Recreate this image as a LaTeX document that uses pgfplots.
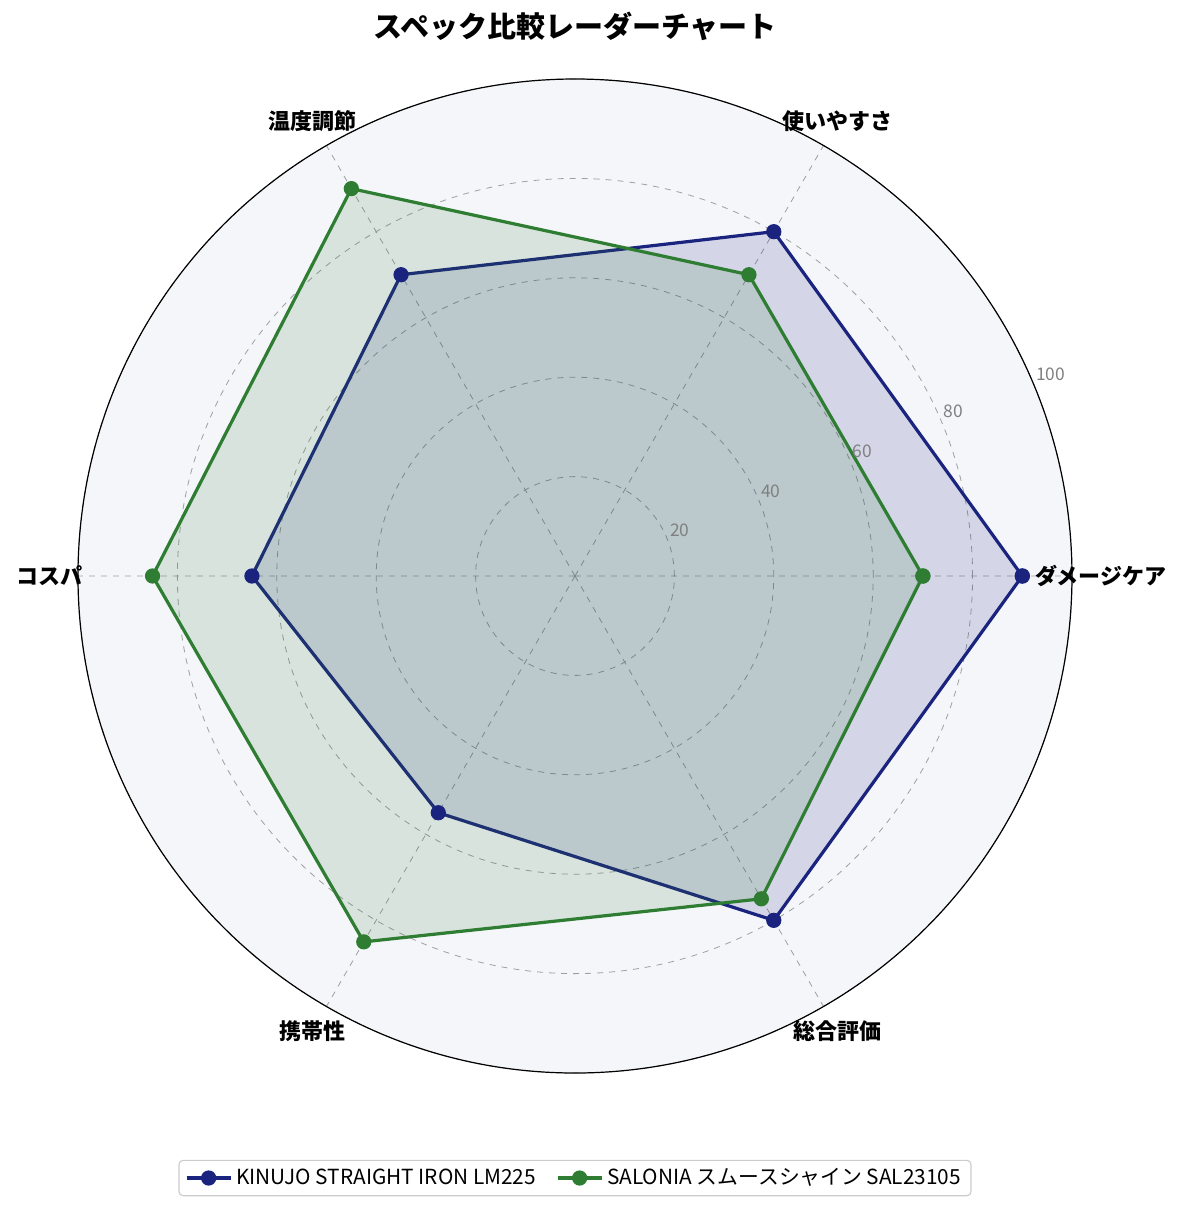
\documentclass[border=0pt]{standalone}
\usepackage{fontspec}
\setmainfont{Noto Sans CJK JP}
\usepackage{pgfplots}
\pgfplotsset{compat=1.18}
\usepgfplotslibrary{polar}
\definecolor{navyc}{HTML}{1A237E}
\definecolor{greenc}{HTML}{2E7D32}
\definecolor{bgc}{HTML}{F5F6FA}
\begin{document}
\begin{tikzpicture}
\begin{polaraxis}[
  at={(0,0)}, anchor=center,
  width=497pt, height=497pt, scale only axis,
  ymin=0, ymax=100,
  xtick={0,60,120,180,240,300}, xticklabels={},
  ytick={20,40,60,80,100}, yticklabels={},
  major tick length=0pt,
  grid=major,
  major grid style={gray!75, dashed, line width=0.4pt},
  separate axis lines,
  x axis line style={black, line width=0.6pt},
  y axis line style={draw=none},
  axis background/.style={fill=bgc},
  clip=false,
  legend columns=2,
  legend style={at={(0.5,0)}, anchor=center, yshift=-52.5pt,
    draw=gray!40, rounded corners=2pt, line width=0.6pt,
    font=\fontsize{10.4}{12.5}\selectfont,
    /tikz/every even column/.append style={column sep=8pt}},
  legend cell align=left,
  legend image code/.code={\draw[mark repeat=2,mark phase=2] plot coordinates {(0pt,0pt) (11pt,0pt) (22pt,0pt)};},
]
% KINUJO
\addplot[navyc, line width=1.6pt, mark=*, mark size=3pt, mark options={solid}]
  coordinates {(0,90) (60,80) (120,70) (180,65) (240,55) (300,80) (360,90)};
\addlegendentry{KINUJO STRAIGHT IRON LM225}
\addplot[draw=none, fill=navyc, fill opacity=0.15, forget plot]
  coordinates {(0,90) (60,80) (120,70) (180,65) (240,55) (300,80) (360,90)};
% SALONIA
\addplot[greenc, line width=1.6pt, mark=*, mark size=3pt, mark options={solid}]
  coordinates {(0,70) (60,70) (120,90) (180,85) (240,85) (300,75) (360,70)};
\addlegendentry{SALONIA スムースシャイン SAL23105}
\addplot[draw=none, fill=greenc, fill opacity=0.15, forget plot]
  coordinates {(0,70) (60,70) (120,90) (180,85) (240,85) (300,75) (360,70)};

% category labels
\begin{scope}[every node/.style={font=\bfseries\fontsize{11}{13}\selectfont, anchor=center}]
\node at (axis cs:0,105.8) {ダメージケア};
\node at (axis cs:60,105.8) {使いやすさ};
\node at (axis cs:120,105.8) {温度調節};
\node at (axis cs:180,105.8) {コスパ};
\node at (axis cs:240,105.8) {携帯性};
\node at (axis cs:300,105.8) {総合評価};
\end{scope}
% radial labels
\begin{scope}[every node/.style={font=\fontsize{8.7}{10}\selectfont, text=gray, anchor=center}]
\node at (axis cs:23.5,23) {20};
\node at (axis cs:23.5,43) {40};
\node at (axis cs:23.5,63) {60};
\node at (axis cs:23.5,83) {80};
\node at (axis cs:23,104) {100};
\end{scope}
\node[font=\bfseries\fontsize{14.5}{17}\selectfont] at (axis cs:90,110.5) {スペック比較レーダーチャート};
\end{polaraxis}
\pgfresetboundingbox
\path[use as bounding box] (-287.5pt,-317.5pt) rectangle (305pt,288pt);
\end{tikzpicture}
\end{document}
